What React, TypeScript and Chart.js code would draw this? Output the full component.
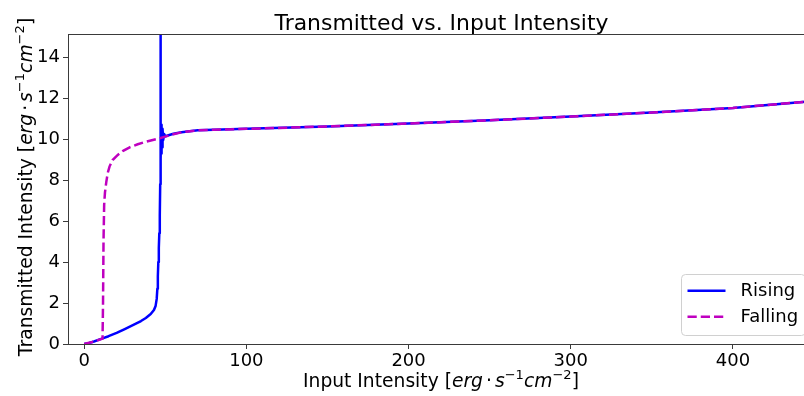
import { useEffect, useRef } from 'react';
import { Chart, registerables } from 'chart.js';

Chart.register(...registerables);

// ---- data ----
const risingX = [0, 3, 6, 10, 15, 20, 25, 30, 35, 38, 41, 43, 44, 44.7, 45.1, 45.4, 45.7, 46.0, 46.3, 46.6, 46.85, 47.0, 47.1, 47.25, 47.4, 47.6, 47.8, 48.0, 48.3, 48.7, 49.3, 50, 55, 60, 70, 80, 100, 150, 200, 250, 300, 350, 400, 450];
const risingY = [0, 0.05, 0.12, 0.24, 0.38, 0.54, 0.73, 0.92, 1.12, 1.27, 1.46, 1.66, 1.85, 2.2, 2.7, 3.3, 4.0, 4.7, 5.4, 6.3, 7.8, 9.5, 30, 9.0, 10.7, 9.3, 10.6, 9.6, 10.5, 9.95, 10.25, 10.14, 10.26, 10.34, 10.43, 10.46, 10.5, 10.62, 10.76, 10.92, 11.1, 11.3, 11.52, 11.86];

const fallingX = [0, 5, 11.3, 11.6, 11.9, 12.3, 12.8, 13.6, 14.5, 15.6, 17.5, 20.7, 24, 28, 33, 38.3, 46.5, 50, 55, 60, 70, 80, 100, 150, 200, 250, 300, 350, 400, 450];
const fallingY = [0, 0.1, 0.26, 2.0, 5.0, 6.8, 7.4, 7.9, 8.35, 8.66, 8.98, 9.23, 9.43, 9.6, 9.75, 9.88, 10.04, 10.12, 10.24, 10.33, 10.43, 10.46, 10.5, 10.62, 10.76, 10.92, 11.1, 11.3, 11.52, 11.86];

const xTicks = [0, 100, 200, 300, 400];
const yTicks = [0, 2, 4, 6, 8, 10, 12, 14];

const seriesNames = ['Rising', 'Falling'];
const titleText = 'Transmitted vs. Input Intensity';

type Seg = { t?: string; it?: boolean; sup?: boolean; gap?: number };
const unitSegs: Seg[] = [
  { t: ' [' },
  { t: 'erg', it: true },
  { gap: 3 },
  { t: '\u00b7' },
  { gap: 3 },
  { t: 's', it: true },
  { t: '\u22121', sup: true },
  { t: 'cm', it: true },
  { t: '\u22122', sup: true },
  { t: ']' },
];
const xLabelSegs: Seg[] = [{ t: 'Input Intensity' }, ...unitSegs];
const yLabelSegs: Seg[] = [{ t: 'Transmitted Intensity' }, ...unitSegs];

const FAMILY = '"DejaVu Sans", sans-serif';

function segFont(s: Seg, size: number) {
  const sz = s.sup ? size * 0.7 : size;
  return `${s.it ? 'italic ' : ''}${sz}px ${FAMILY}`;
}

function segWidth(ctx: CanvasRenderingContext2D, segs: Seg[], size: number) {
  let w = 0;
  for (const s of segs) {
    if (s.gap) { w += s.gap; continue; }
    ctx.font = segFont(s, size);
    w += ctx.measureText(s.t || '').width;
  }
  return w;
}

function drawSegs(ctx: CanvasRenderingContext2D, segs: Seg[], size: number, cx: number, baseY: number) {
  const total = segWidth(ctx, segs, size);
  let x = cx - total / 2;
  ctx.textAlign = 'left';
  ctx.textBaseline = 'alphabetic';
  ctx.fillStyle = '#000';
  for (const s of segs) {
    if (s.gap) { x += s.gap; continue; }
    ctx.font = segFont(s, size);
    const y = s.sup ? baseY - size * 0.42 : baseY;
    ctx.fillText(s.t || '', x, y);
    x += ctx.measureText(s.t || '').width;
  }
}

const decorPlugin = {
  id: 'decor',
  afterDatasetsDraw(chart: any) {
    const ctx: CanvasRenderingContext2D = chart.ctx;
    const ca = chart.chartArea;
    ctx.save();
    ctx.strokeStyle = '#3a3a3a';
    ctx.lineWidth = 1;
    ctx.strokeRect(Math.round(ca.left) + 0.5, Math.round(ca.top) + 0.5, ca.right - Math.round(ca.left), Math.round(ca.bottom) - Math.round(ca.top));
    ctx.restore();
  },
  afterDraw(chart: any) {
    const ctx: CanvasRenderingContext2D = chart.ctx;
    const ca = chart.chartArea;
    const cx = (ca.left + ca.right) / 2;
    ctx.save();
    // title
    ctx.font = `21.9px ${FAMILY}`;
    ctx.fillStyle = '#000';
    ctx.textAlign = 'center';
    ctx.textBaseline = 'alphabetic';
    ctx.fillText(titleText, cx + 0.5, 30);
    // x label
    drawSegs(ctx, xLabelSegs, 18.7, cx, 387);
    // y label
    ctx.save();
    ctx.translate(32, (ca.top + ca.bottom) / 2 - 2);
    ctx.rotate(-Math.PI / 2);
    drawSegs(ctx, yLabelSegs, 18.7, 0, 0);
    ctx.restore();

    // legend
    const w = 124, h = 61;
    const right = ca.right - 9, bottom = ca.bottom - 9;
    const left = right - w, top = bottom - h;
    ctx.beginPath();
    (ctx as any).roundRect(left + 0.5, top + 0.5, w, h, 4);
    ctx.fillStyle = 'rgba(255,255,255,0.8)';
    ctx.fill();
    ctx.strokeStyle = '#d0d0d0';
    ctx.lineWidth = 1;
    ctx.stroke();
    const rows = [top + 16.7, top + 42.7];
    const ds = chart.data.datasets;
    rows.forEach((ry, i) => {
      ctx.beginPath();
      ctx.strokeStyle = ds[i].borderColor;
      ctx.lineWidth = 2.5;
      ctx.setLineDash(ds[i].borderDash || []);
      ctx.moveTo(left + 6.5, ry);
      ctx.lineTo(left + 44.5, ry);
      ctx.stroke();
      ctx.setLineDash([]);
      ctx.font = `18px ${FAMILY}`;
      ctx.fillStyle = '#000';
      ctx.textAlign = 'left';
      ctx.textBaseline = 'middle';
      ctx.fillText(seriesNames[i], left + 59.5, ry + 1);
    });
    ctx.restore();
  },
};

export default function App() {
  const ref = useRef<HTMLCanvasElement | null>(null);
  useEffect(() => {
    document.body.style.margin = '0';
    const canvas = ref.current!;
    const chart = new Chart(canvas, {
      type: 'line',
      data: {
        datasets: [
          {
            label: seriesNames[0],
            data: risingX.map((x, i) => ({ x, y: risingY[i] })),
            borderColor: '#0000ff',
            borderWidth: 2.5,
            pointRadius: 0,
            tension: 0,
            fill: false,
            borderJoinStyle: 'round',
            order: 2,
          } as any,
          {
            label: seriesNames[1],
            data: fallingX.map((x, i) => ({ x, y: fallingY[i] })),
            borderColor: '#bf00bf',
            borderWidth: 2.5,
            borderDash: [9.25, 4],
            pointRadius: 0,
            tension: 0,
            fill: false,
            order: 1,
          } as any,
        ],
      },
      options: {
        animation: false,
        responsive: false,
        devicePixelRatio: 1,
        layout: { padding: { top: 34, left: 0, right: 0, bottom: 0 } },
        plugins: {
          legend: { display: false },
          title: { display: false },
          tooltip: { enabled: false },
        },
        scales: {
          x: {
            type: 'linear',
            min: -10,
            max: 450,
            afterBuildTicks: (s: any) => { s.ticks = xTicks.map((v) => ({ value: v })); },
            afterFit: (s: any) => { s.height = 52; },
            grid: { drawOnChartArea: false, drawTicks: true, tickLength: 5, color: '#3a3a3a', lineWidth: 1 },
            border: { display: false },
            ticks: {
              color: '#000',
              font: { family: FAMILY, size: 18 },
              padding: 2,
              maxRotation: 0,
              callback: (v: any) => String(v),
            },
          },
          y: {
            type: 'linear',
            min: 0,
            max: 15.13,
            afterBuildTicks: (s: any) => { s.ticks = yTicks.map((v) => ({ value: v })); },
            afterFit: (s: any) => { s.width = 68; },
            grid: { drawOnChartArea: false, drawTicks: true, tickLength: 5, color: '#3a3a3a', lineWidth: 1 },
            border: { display: false },
            ticks: {
              color: '#000',
              font: { family: FAMILY, size: 18 },
              padding: 3,
              callback: (v: any) => String(v),
            },
          },
        },
      },
      plugins: [decorPlugin],
    });
    return () => chart.destroy();
  }, []);
  return (
    <div style={{ position: 'fixed', left: 0, top: 0, width: 804, height: 396, overflow: 'hidden', background: '#fff' }}>
      <canvas ref={ref} width={814} height={396} style={{ display: 'block' }} />
    </div>
  );
}
